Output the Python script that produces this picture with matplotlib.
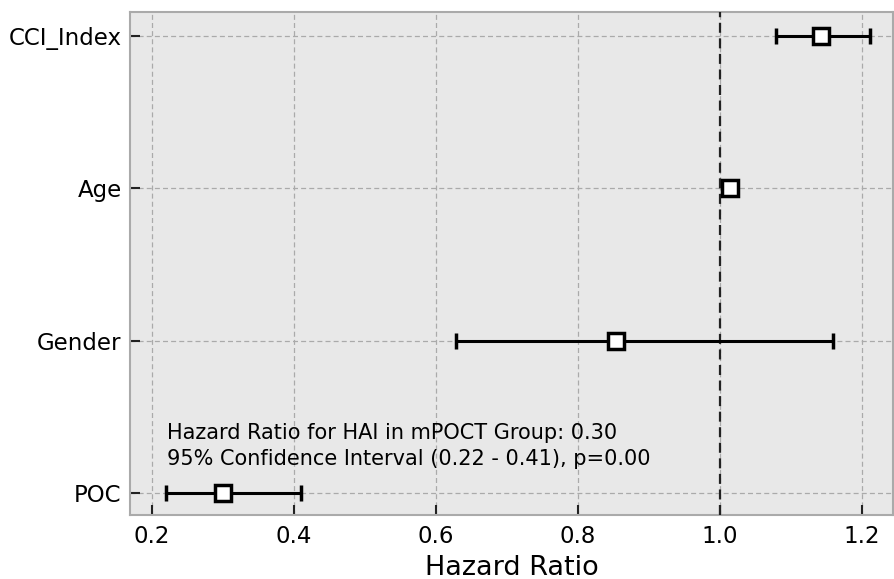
import matplotlib
matplotlib.use("Agg")
import matplotlib.pyplot as plt
import numpy as np

covariates = ["POC", "Gender", "Age", "CCI_Index"]
hazard_ratio = [0.30, 0.854, 1.015, 1.142]
ci_lower = [0.22, 0.628, 1.010, 1.079]
ci_upper = [0.41, 1.160, 1.020, 1.211]
annotation = ("Hazard Ratio for HAI in mPOCT Group: 0.30\n"
              "95% Confidence Interval (0.22 - 0.41), p=0.00")

fig = plt.figure(figsize=(8.94, 5.79), dpi=100)
ax = fig.add_axes([130/894, 1-515/579, (893-130)/894, (515-12)/579])
ax.set_facecolor("#e8e8e8")

y = np.arange(len(covariates))
hr = np.array(hazard_ratio)
lo = np.array(ci_lower)
hi = np.array(ci_upper)
ax.errorbar(hr, y, xerr=[hr-lo, hi-hr], fmt="s", color="black",
            ecolor="black", elinewidth=2.2, capsize=6, capthick=2.2,
            markersize=11, markerfacecolor="white", markeredgecolor="black",
            markeredgewidth=2.5, zorder=5)
ax.axvline(1.0, color="#222222", linestyle=(0, (4.5, 2.5)), linewidth=1.6, zorder=4)

ax.set_xlim(0.169, 1.244)
ax.set_ylim(-0.145, 3.158)
ax.set_yticks(y)
ax.set_yticklabels(covariates)
ax.set_xticks([0.2, 0.4, 0.6, 0.8, 1.0, 1.2])
ax.set_xticklabels(["0.2", "0.4", "0.6", "0.8", "1.0", "1.2"])
ax.tick_params(axis="both", direction="in", labelsize=16.5, length=7,
               width=1.5, color="#222222")
ax.tick_params(axis="x", pad=7)
ax.tick_params(axis="y", pad=6)
ax.grid(True, color="#aaaaaa", linestyle=(0, (4, 2.5)), linewidth=0.9)
ax.set_axisbelow(True)
for s in ax.spines.values():
    s.set_color("#aaaaaa")
    s.set_linewidth(1.5)
ax.set_xlabel("Hazard Ratio", fontsize=19.5, labelpad=5)

ax.text(0.221, 0.31, annotation, fontsize=15, ha="left", va="center",
        linespacing=1.4, zorder=6)

fig.savefig("out.png", dpi=100)
